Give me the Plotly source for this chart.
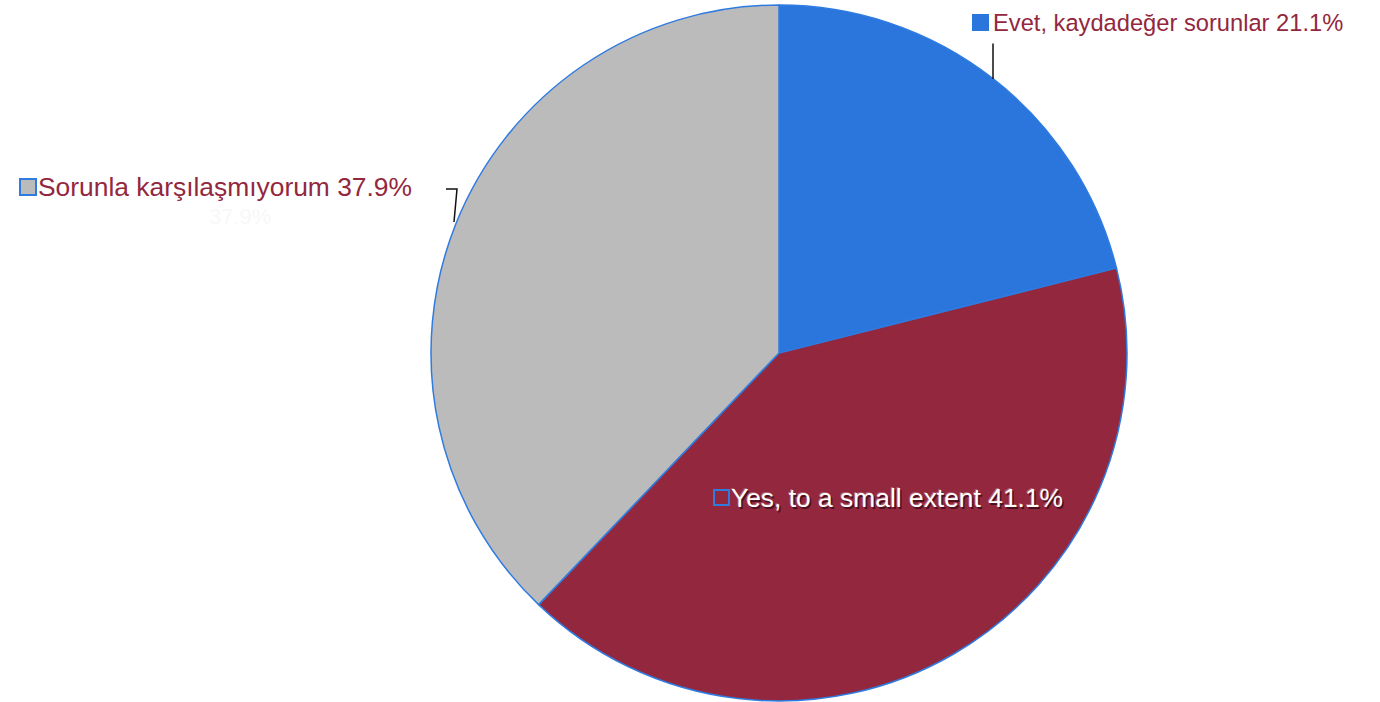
import plotly.graph_objects as go

labels = ["Evet, kaydadeğer sorunlar", "Yes, to a small extent", "Sorunla karşılaşmıyorum"]
values = [21.1, 41.1, 37.9]
colors = ["#2a76dd", "#93273e", "#bbbbbb"]

W, H = 1380, 702
cx, cy, r = 779, 353, 348

def px(x):
    return x / W

def py(y):
    return 1 - y / H

fig = go.Figure()
fig.add_trace(go.Pie(
    labels=labels, values=values, sort=False, direction="clockwise", rotation=0,
    marker=dict(colors=colors, line=dict(color="#2f7be0", width=1.5)),
    textinfo="none", hoverinfo="label+percent", showlegend=False,
    domain=dict(x=[px(cx - r), px(cx + r)], y=[py(cy + r), py(cy - r)]),
))

font_family = "Liberation Sans, Arial, sans-serif"
label_color = "#93273e"
txt = [f"{l} {v}%" for l, v in zip(labels, values)]

ann = []
# Evet label
ann.append(dict(x=px(972), y=py(22), xref="paper", yref="paper", text="", showarrow=False,
                width=13, height=13, bgcolor=colors[0], bordercolor=colors[0], borderwidth=1,
                xanchor="left", yanchor="middle"))
ann.append(dict(x=px(991), y=py(23), xref="paper", yref="paper", text=txt[0], showarrow=False,
                font=dict(family=font_family, size=23.7, color=label_color),
                xanchor="left", yanchor="middle"))
ann.append(dict(x=px(993), y=py(79), xref="paper", yref="paper", text="", showarrow=True,
                arrowhead=0, arrowwidth=1.5, arrowcolor="#111111", ax=0, ay=-37,
                axref="pixel", ayref="pixel", standoff=0, startstandoff=0))
# Sorunla label
ann.append(dict(x=px(19), y=py(187), xref="paper", yref="paper", text="", showarrow=False,
                width=12, height=12, bgcolor=colors[2], bordercolor="#2f7be0", borderwidth=2,
                xanchor="left", yanchor="middle"))
ann.append(dict(x=px(36), y=py(187), xref="paper", yref="paper", text=txt[2], showarrow=False,
                font=dict(family=font_family, size=26.4, color=label_color),
                xanchor="left", yanchor="middle"))
ann.append(dict(x=px(240), y=py(216), xref="paper", yref="paper", text=f"{values[2]}%", showarrow=False,
                font=dict(family=font_family, size=22, color="#f8f8f8"),
                xanchor="center", yanchor="middle"))
# Yes label (inside)
ann.append(dict(x=px(713), y=py(497), xref="paper", yref="paper", text="", showarrow=False,
                width=11, height=11, bgcolor=colors[1], bordercolor="#2f7be0", borderwidth=2,
                xanchor="left", yanchor="middle"))
ann.append(dict(x=px(729), y=py(498), xref="paper", yref="paper", text=txt[1], showarrow=False,
                font=dict(family=font_family, size=26.4, color="#ffffff",
                          shadow="1.5px 1.5px 0px #4a1020, -1px -1px 0px #b06070"),
                xanchor="left", yanchor="middle"))

fig.update_layout(
    width=W, height=H, margin=dict(l=0, r=0, t=0, b=0),
    paper_bgcolor="white", plot_bgcolor="white",
    annotations=ann,
    shapes=[dict(type="path", xref="paper", yref="paper",
                 path=f"M {px(454)},{py(222)} L {px(457)},{py(189)} L {px(446)},{py(189)}",
                 line=dict(color="#111111", width=1.5))],
)

fig.write_html("out.html", config={"displayModeBar": False},
               post_script="document.body.style.margin='0';document.body.style.overflow='hidden';")
